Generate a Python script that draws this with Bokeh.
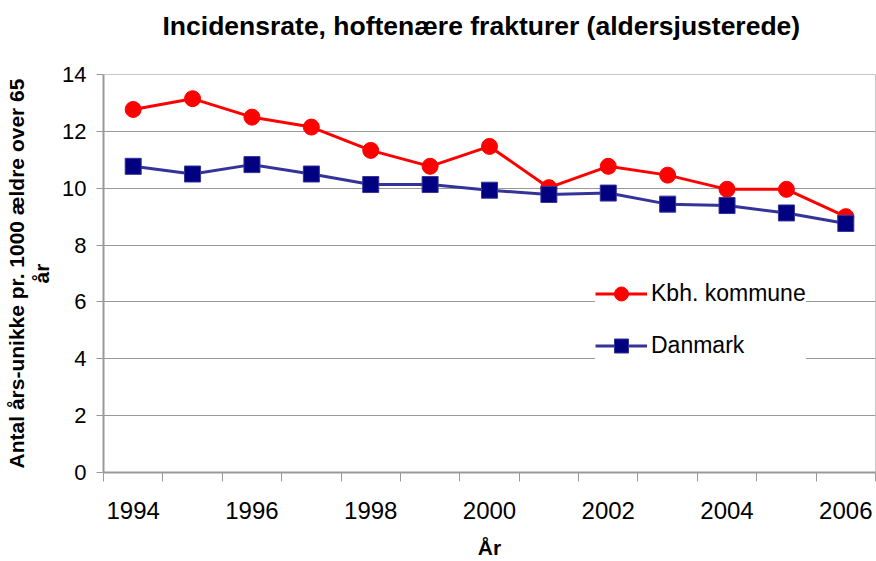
from bokeh.plotting import figure
from bokeh.models import Range1d, FixedTicker, Title, Legend, LegendItem
from bokeh.embed import file_html
from bokeh.resources import INLINE

years = [1994, 1995, 1996, 1997, 1998, 1999, 2000, 2001, 2002, 2003, 2004, 2005, 2006]
kbh = [12.77, 13.15, 12.5, 12.15, 11.33, 10.77, 11.47, 10.02, 10.77, 10.46, 9.96, 9.96, 9.0]
danmark = [10.77, 10.5, 10.83, 10.5, 10.13, 10.13, 9.93, 9.78, 9.83, 9.44, 9.39, 9.13, 8.76]
year_labels = [1994, 1996, 1998, 2000, 2002, 2004, 2006]
y_ticks = [0, 2, 4, 6, 8, 10, 12, 14]

title_text = "Incidensrate, hoftenære frakturer (aldersjusterede)"
ylabel_main = "Antal års-unikke pr. 1000 ældre over 65"
ylabel_second = "år"
xlabel = "År"
series_names = ["Kbh. kommune", "Danmark"]

FONT = "Liberation Sans"

p = figure(width=876, height=561, output_backend="svg", toolbar_location=None,
           x_range=Range1d(years[0] - 0.5, years[-1] + 0.5),
           y_range=Range1d(0, 14),
           min_border_left=103, min_border_right=1, min_border_top=74, min_border_bottom=88)

p.title.text = title_text
p.title.text_font = FONT
p.title.text_font_size = "26.5px"
p.title.text_font_style = "bold"
p.title.text_color = "black"
p.title.align = "left"
p.title.offset = 59

# spacer between title and plot frame
spacer = Title(text=" ", text_font_size="24px", standoff=0)
p.above.insert(0, spacer)

p.outline_line_color = "#c8c8c8"
p.outline_line_width = 1

# grid
p.xgrid.visible = False
p.ygrid.ticker = FixedTicker(ticks=y_ticks)
p.ygrid.grid_line_color = "#999999"
p.ygrid.grid_line_width = 1

# x axis
xa = p.xaxis[0]
xa.ticker = FixedTicker(ticks=year_labels, minor_ticks=[y - 0.5 for y in years] + [years[-1] + 0.5])
xa.major_tick_out = 0
xa.major_tick_in = 0
xa.minor_tick_out = 9
xa.minor_tick_in = 0
xa.minor_tick_line_color = "#999999"
xa.axis_line_color = "#999999"
xa.axis_line_width = 2
xa.major_label_standoff = 20
xa.major_label_text_font = FONT
xa.major_label_text_font_size = "24px"
xa.major_label_text_color = "black"
xa.axis_label = xlabel
xa.axis_label_text_font = FONT
xa.axis_label_text_font_size = "21px"
xa.axis_label_text_font_style = "bold"
xa.axis_label_text_color = "black"
xa.axis_label_standoff = 14

# y axis
ya = p.yaxis[0]
ya.ticker = FixedTicker(ticks=y_ticks)
ya.major_tick_out = 7
ya.major_tick_in = 0
ya.minor_tick_line_color = None
ya.major_tick_line_color = "#999999"
ya.axis_line_color = "#999999"
ya.axis_line_width = 2
ya.major_label_standoff = 10
ya.major_label_text_font = FONT
ya.major_label_text_font_size = "22px"
ya.major_label_text_color = "black"
ya.axis_label = ylabel_second
ya.axis_label_text_font = FONT
ya.axis_label_text_font_size = "21px"
ya.axis_label_text_font_style = "bold"
ya.axis_label_text_color = "black"
ya.axis_label_standoff = 6

t2 = Title(text=ylabel_main, align="center", text_font=FONT, text_font_size="21px",
           text_font_style="bold", text_color="black", standoff=0)
p.add_layout(t2, "left")

r1_line = p.line(years, kbh, line_color="#ff0000", line_width=3)
r1_pts = p.scatter(years, kbh, marker="circle", size=16, fill_color="#ff0000", line_color="#ff0000")
r2_line = p.line(years, danmark, line_color="#333399", line_width=3)
r2_pts = p.scatter(years, danmark, marker="square", size=16, fill_color="#000080", line_color="#333399", line_width=1)

legend = Legend(items=[LegendItem(label=series_names[0], renderers=[r1_line, r1_pts]),
                       LegendItem(label=series_names[1], renderers=[r2_line, r2_pts])],
                location=(492, 109), orientation="vertical",
                glyph_width=52, glyph_height=35, label_height=35, spacing=17,
                padding=8, margin=0, label_standoff=4,
                label_text_font=FONT, label_text_font_size="23px", label_text_color="black",
                background_fill_color="white", background_fill_alpha=1.0,
                border_line_color=None)
p.add_layout(legend, "center")

open("out.html", "w").write(file_html(p, INLINE))
